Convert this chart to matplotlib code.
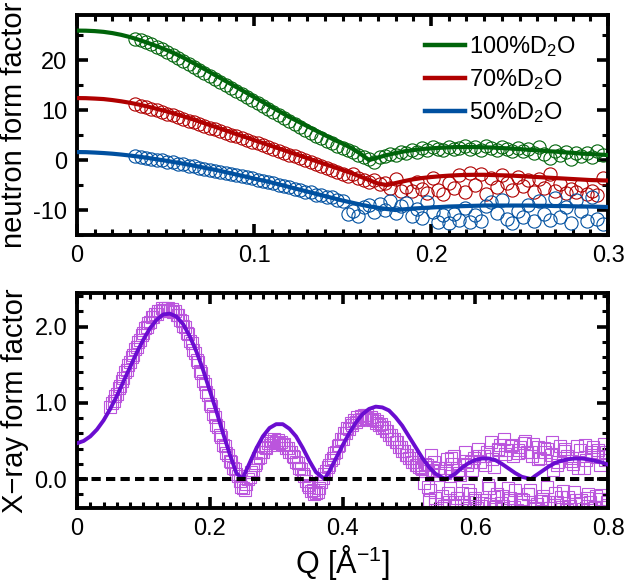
import numpy as np
import matplotlib
matplotlib.use("Agg")
import matplotlib.pyplot as plt
from matplotlib.ticker import MultipleLocator

plt.rcParams['font.family'] = ['Liberation Sans', 'DejaVu Sans']
plt.rcParams['mathtext.fontset'] = 'custom'
plt.rcParams['mathtext.rm'] = 'Liberation Sans'
plt.rcParams['mathtext.it'] = 'Liberation Sans'
plt.rcParams['mathtext.default'] = 'regular'

# ---------------- neutron data ----------------
labels_n = ['100%D$_2$O', '70%D$_2$O', '50%D$_2$O']
colors_n = ['#00640A', '#B00000', '#0050A0']

q_n = np.round(np.linspace(0.033, 0.297, 89), 4)

green_data = [24.3, 24.0, 23.6, 23.2, 22.7, 22.2, 21.6, 21.0, 20.4, 19.8,
              19.2, 18.6, 18.0, 17.4, 16.8, 16.2, 15.6, 15.0, 14.4, 13.8,
              13.2, 12.6, 12.0, 11.4, 10.8, 10.2, 9.6, 9.0, 8.4, 7.8,
              7.2, 6.6, 6.0, 5.4, 4.9, 4.4, 3.9, 3.4, 2.9, 2.5,
              2.0, 1.6, 1.1, 0.6, 0.3, -0.4, 0.6, 0.9, 1.3, 1.0,
              1.6, 1.4, 2.1, 1.7, 2.4, 2.0, 2.6, 2.3, 2.0, 2.7,
              2.2, 2.5, 2.9, 2.3, 2.6, 2.1, 2.8, 2.4, 2.0, 2.6,
              2.2, 1.8, 2.5, 1.9, 2.3, 1.5, 2.6, 1.2, 0.4, 1.9,
              1.0, 1.7, 0.3, 1.4, 0.8, 1.5, 0.6, 1.8, 1.0]

red_data = [11.2, 10.9, 10.6, 10.3, 9.95, 9.6, 9.3, 8.95, 8.6, 8.25,
            7.9, 7.55, 7.2, 6.85, 6.5, 6.15, 5.8, 5.45, 5.1, 4.75,
            4.4, 4.05, 3.7, 3.35, 3.0, 2.6, 2.2, 1.85, 1.5, 1.1,
            0.75, 0.4, 0.0, -0.4, -0.8, -1.2, -1.6, -2.0, -2.3, -2.7,
            -3.1, -2.8, -3.6, -3.9, -4.3, -4.0, -4.8, -4.5, -5.6, -3.7,
            -6.1, -5.3, -6.2, -4.4, -5.8, -6.5, -3.6, -5.9, -6.7, -4.5,
            -5.6, -3.0, -6.3, -2.6, -4.9, -2.8, -6.8, -3.5, -5.4, -2.9,
            -4.6, -6.0, -3.3, -5.2, -4.0, -6.3, -3.8, -5.5, -2.7, -6.1,
            -4.8, -6.6, -5.8, -6.4, -5.0, -6.8, -6.2, -7.0, -3.5]

blue_data = [0.85, 0.65, 0.45, 0.3, 0.1, -0.05, -0.3, -0.45, -0.7, -0.85,
             -1.1, -1.25, -1.5, -1.7, -1.9, -2.1, -2.3, -2.5, -2.75, -2.95,
             -3.2, -3.4, -3.6, -3.9, -4.1, -4.4, -4.6, -4.9, -5.1, -5.4,
             -5.7, -5.9, -6.3, -6.4, -6.9, -7.0, -7.4, -7.3, -7.9, -8.2,
             -10.8, -10.2, -11.1, -9.4, -9.0, -10.4, -8.8, -9.9, -8.2, -10.5,
             -9.1, -8.6, -11.2, -9.8, -11.6, -8.4, -10.3, -12.3, -11.0, -12.6,
             -10.7, -11.9, -9.6, -12.4, -10.9, -12.1, -9.2, -8.3, -10.6, -7.9,
             -11.8, -12.5, -10.1, -11.4, -9.0, -12.2, -8.1, -10.8, -12.0, -7.6,
             -11.3, -9.4, -12.6, -8.0, -10.2, -12.1, -7.4, -11.7, -12.8]

q_nfit = np.round(np.linspace(0.0, 0.3, 61), 4)

green_fit = [25.9, 25.88, 25.8, 25.65, 25.4, 25.05, 24.6, 24.05, 23.45, 22.8,
             22.1, 21.35, 20.5, 19.55, 18.6, 17.6, 16.6, 15.6, 14.6, 13.6,
             12.6, 11.6, 10.6, 9.6, 8.6, 7.7, 6.8, 5.9, 5.0, 4.1,
             3.3, 2.4, 1.3, 0.0, 0.5, 1.0, 1.4, 1.75, 2.0, 2.2,
             2.35, 2.45, 2.55, 2.6, 2.6, 2.6, 2.55, 2.5, 2.4, 2.3,
             2.2, 2.05, 1.95, 1.8, 1.7, 1.55, 1.45, 1.3, 1.2, 1.1, 1.0]

red_fit = [12.4, 12.38, 12.3, 12.2, 12.0, 11.75, 11.45, 11.1, 10.7, 10.25,
           9.8, 9.3, 8.75, 8.2, 7.6, 7.0, 6.4, 5.8, 5.2, 4.6,
           4.0, 3.4, 2.8, 2.2, 1.6, 1.0, 0.4, -0.2, -0.8, -1.4,
           -2.0, -2.6, -3.3, -4.0, -4.7, -5.0, -4.6, -4.2, -3.85, -3.6,
           -3.4, -3.25, -3.12, -3.03, -2.97, -2.95, -2.95, -3.0, -3.05, -3.1,
           -3.2, -3.3, -3.4, -3.5, -3.6, -3.7, -3.8, -3.9, -4.0, -4.05, -4.1]

blue_fit = [1.6, 1.58, 1.5, 1.4, 1.27, 1.1, 0.9, 0.68, 0.42, 0.15,
            -0.12, -0.42, -0.72, -1.05, -1.4, -1.75, -2.1, -2.5, -2.9, -3.3,
            -3.7, -4.1, -4.5, -4.95, -5.4, -5.85, -6.3, -6.75, -7.2, -7.65,
            -8.1, -8.5, -8.9, -9.25, -9.55, -9.8, -10.0, -9.85, -9.7, -9.6,
            -9.5, -9.4, -9.3, -9.25, -9.2, -9.15, -9.1, -9.1, -9.1, -9.1,
            -9.1, -9.1, -9.15, -9.15, -9.2, -9.2, -9.25, -9.3, -9.3, -9.35, -9.4]

# ---------------- X-ray data ----------------
f_x = [0.95, 1.02, 1.12, 1.22, 1.32, 1.43, 1.53, 1.63, 1.73, 1.83,
       1.91, 1.99, 2.06, 2.12, 2.17, 2.20, 2.22, 2.22, 2.21, 2.19,
       2.15, 2.09, 2.01, 1.92, 1.81, 1.69, 1.56, 1.42, 1.28, 1.14,
       0.99, 0.85, 0.71, 0.58, 0.45, 0.34, 0.24, 0.15, 0.06, -0.02,
       -0.12, -0.06, 0.03, 0.12, 0.21, 0.29, 0.36, 0.41, 0.45, 0.47,
       0.48, 0.47, 0.45, 0.41, 0.36, 0.30, 0.23, 0.15, 0.07, -0.02,
       -0.10, -0.15, -0.18, -0.12, 0.02, 0.10, 0.18, 0.27, 0.36, 0.45,
       0.53, 0.60, 0.66, 0.71, 0.75, 0.78, 0.79, 0.80, 0.79, 0.77,
       0.74, 0.71, 0.67, 0.63, 0.58, 0.53, 0.48, 0.42, 0.37, 0.32,
       0.27, 0.23, 0.19, 0.16, 0.13,
       0.10, -0.28, 0.12, -0.33, 0.05, -0.22, 0.15, -0.30, 0.20, -0.35,
       0.08, -0.18, 0.24, -0.38, 0.12, -0.25, 0.30, -0.32, 0.18, -0.12,
       0.26, -0.36, 0.40, -0.22, 0.33, -0.28, 0.45, -0.15, 0.38, -0.34,
       0.50, -0.20, 0.30, -0.38, 0.42, -0.26, 0.35, -0.30, 0.48, -0.18,
       0.22, -0.36, 0.40, -0.24, 0.28, -0.33, 0.15, -0.28, 0.45, -0.20,
       0.32, -0.37, 0.38, -0.26, 0.25, -0.34]
q_x = np.round(np.linspace(0.05, 0.80, len(f_x)), 4)

f_xb = [1.00, 1.09, 1.19, 1.29, 1.40, 1.50, 1.60, 1.70, 1.80, 1.89,
        1.98, 2.05, 2.12, 2.17, 2.21, 2.24, 2.25, 2.24, 2.23, 2.20,
        2.15, 2.08, 2.00, 1.90, 1.79, 1.66, 1.53, 1.39, 1.25, 1.10,
        0.96, 0.82, 0.68, 0.55, 0.43, 0.32, 0.22, 0.13, 0.04, -0.10,
        -0.15, 0.00, 0.09, 0.18, 0.27, 0.35, 0.42, 0.47, 0.50, 0.52,
        0.51, 0.49, 0.46, 0.41, 0.35, 0.29, 0.21, 0.13, 0.04, -0.08,
        -0.16, -0.20, -0.17, -0.04, 0.07, 0.16, 0.25, 0.34, 0.43, 0.52,
        0.60, 0.67, 0.73, 0.78, 0.81, 0.83, 0.84, 0.84, 0.82, 0.79,
        0.76, 0.72, 0.68, 0.63, 0.58, 0.53, 0.48, 0.42, 0.37, 0.32,
        0.27, 0.23, 0.19, 0.15]
q_xb = np.round(np.linspace(0.0525, 0.0525 + 0.005 * (len(f_xb) - 1), len(f_xb)), 4)

f_x2 = [-0.05, 0.18, -0.15, 0.22, -0.40, 0.10, -0.35, 0.26, -0.12, 0.30,
        -0.25, 0.05, -0.30, 0.18, -0.20, 0.28, -0.38, 0.22, -0.27, 0.35,
        -0.33, 0.16, -0.20, 0.45, -0.35, 0.38, -0.25, 0.30, -0.40, 0.42,
        -0.28, 0.36, -0.15, 0.46, -0.33, 0.28, -0.22, 0.40, -0.38, 0.12,
        -0.30, 0.44, -0.16, 0.30, -0.35, 0.20, -0.27, 0.38, -0.39, 0.25,
        -0.30, 0.42, -0.22, 0.18, -0.36, 0.35]
q_x2 = np.round(np.linspace(0.5225, 0.7975, len(f_x2)), 4)

f_x3 = [0.20, -0.10, 0.32, -0.25, 0.15, -0.38, 0.08, -0.18, 0.27, -0.30,
        0.12, -0.40, 0.35, -0.14, 0.22, -0.28, 0.40, -0.35, 0.30, -0.08,
        0.48, -0.24, 0.38, -0.31, 0.52, -0.12, 0.44, -0.37, 0.34, -0.26,
        0.47, -0.19, 0.36, -0.39, 0.26, -0.29, 0.41, -0.10, 0.31, -0.34,
        0.18, -0.23, 0.37, -0.40, 0.24, -0.17, 0.43, -0.31, 0.14, -0.25,
        0.36, -0.38, 0.29, -0.21, 0.46, -0.30]
q_x3 = np.round(np.linspace(0.5238, 0.7988, len(f_x3)), 4)

q_xfit = [0.0, 0.01, 0.02, 0.03, 0.04, 0.05, 0.06, 0.07, 0.08, 0.09,
          0.10, 0.11, 0.12, 0.13, 0.14, 0.15, 0.16, 0.17, 0.18, 0.19,
          0.20, 0.21, 0.22, 0.23, 0.24, 0.249, 0.26, 0.27, 0.28, 0.29,
          0.30, 0.31, 0.32, 0.33, 0.34, 0.35, 0.36, 0.373, 0.38, 0.39,
          0.40, 0.41, 0.42, 0.43, 0.44, 0.45, 0.46, 0.47, 0.48, 0.49,
          0.50, 0.51, 0.52, 0.53, 0.54, 0.55, 0.556, 0.57, 0.58, 0.59,
          0.60, 0.61, 0.62, 0.63, 0.64, 0.65, 0.66, 0.67, 0.684, 0.69,
          0.70, 0.71, 0.72, 0.73, 0.74, 0.75, 0.76, 0.77, 0.78, 0.79, 0.80]
f_xfit = [0.47, 0.50, 0.56, 0.65, 0.77, 0.92, 1.09, 1.28, 1.47, 1.66,
          1.83, 1.98, 2.09, 2.16, 2.17, 2.13, 2.03, 1.87, 1.67, 1.43,
          1.16, 0.89, 0.60, 0.33, 0.08, 0.0, 0.21, 0.40, 0.56, 0.67,
          0.72, 0.72, 0.66, 0.56, 0.41, 0.24, 0.09, 0.0, 0.10, 0.27,
          0.44, 0.60, 0.74, 0.85, 0.92, 0.95, 0.94, 0.90, 0.81, 0.70,
          0.56, 0.42, 0.28, 0.16, 0.07, 0.02, 0.0, 0.07, 0.15, 0.21,
          0.25, 0.27, 0.27, 0.25, 0.20, 0.14, 0.08, 0.03, 0.0, 0.04,
          0.10, 0.16, 0.21, 0.24, 0.26, 0.27, 0.27, 0.26, 0.24, 0.22, 0.19]

xray_data_color = '#BB55DD'
xray_fit_color = '#6A0DD0'

# ---------------- figure ----------------
fig = plt.figure(figsize=(6.34, 5.88), dpi=100)
ax1 = fig.add_axes([0.1215, 0.6003, 0.8375, 0.374])
ax2 = fig.add_axes([0.1215, 0.136, 0.8375, 0.3656])

def style(ax):
    for s in ax.spines.values():
        s.set_linewidth(2.8)
    ax.tick_params(which='both', direction='in', top=True, right=True,
                   labelsize=17, pad=7)
    ax.tick_params(which='major', length=8, width=2.6)
    ax.tick_params(which='minor', length=4, width=2.2)

datasets = [green_data, red_data, blue_data]
fits = [green_fit, red_fit, blue_fit]
for d, c in zip(datasets, colors_n):
    ax1.plot(q_n, d, 'o', mfc='none', mec=c, ms=9.5, mew=0.8, zorder=2)
for f, c, lab in zip(fits, colors_n, labels_n):
    ax1.plot(q_nfit, f, '-', color=c, lw=3.0, label=lab, zorder=3)

ax1.set_xlim(0, 0.3)
ax1.set_ylim(-15, 29)
ax1.xaxis.set_minor_locator(MultipleLocator(0.01))
ax1.yaxis.set_minor_locator(MultipleLocator(5))
ax1.set_xticks([0, 0.1, 0.2, 0.3])
ax1.set_xticklabels(['0', '0.1', '0.2', '0.3'])
ax1.set_yticks([-10, 0, 10, 20])
ax1.set_yticklabels(['-10', '0', '10', '20'])
style(ax1)
ax1.set_ylabel('neutron form factor', fontsize=21, labelpad=4)
leg = ax1.legend(loc='upper right', frameon=False, fontsize=17,
                 handlelength=1.7, handletextpad=0.15, labelspacing=0.35,
                 borderaxespad=0.3, bbox_to_anchor=(0.97, 0.99))
for h in leg.get_lines():
    h.set_linewidth(3.2)

for qq, ff in [(q_x, f_x), (q_xb, f_xb), (q_x2, f_x2), (q_x3, f_x3)]:
    ax2.plot(qq, ff, 's', mfc='none', mec=xray_data_color, ms=8, mew=0.8, zorder=2)
ax2.plot(q_xfit, f_xfit, '-', color=xray_fit_color, lw=2.8, zorder=3)
ax2.axhline(0, color='black', lw=2.9, linestyle=(0, (2.3, 1.3)), zorder=4)
ax2.set_xlim(0, 0.8)
ax2.set_ylim(-0.38, 2.44)
ax2.xaxis.set_minor_locator(MultipleLocator(0.02))
ax2.yaxis.set_minor_locator(MultipleLocator(0.2))
ax2.set_xticks([0, 0.2, 0.4, 0.6, 0.8])
ax2.set_xticklabels(['0', '0.2', '0.4', '0.6', '0.8'])
ax2.set_yticks([0, 1, 2])
ax2.set_yticklabels(['0.0', '1.0', '2.0'])
style(ax2)
ax2.set_ylabel('X\u2212ray form factor', fontsize=21, labelpad=4)
ax2.set_xlabel('Q [Å$^{-1}$]', fontsize=22, labelpad=2)

fig.savefig('out.png', dpi=100)
